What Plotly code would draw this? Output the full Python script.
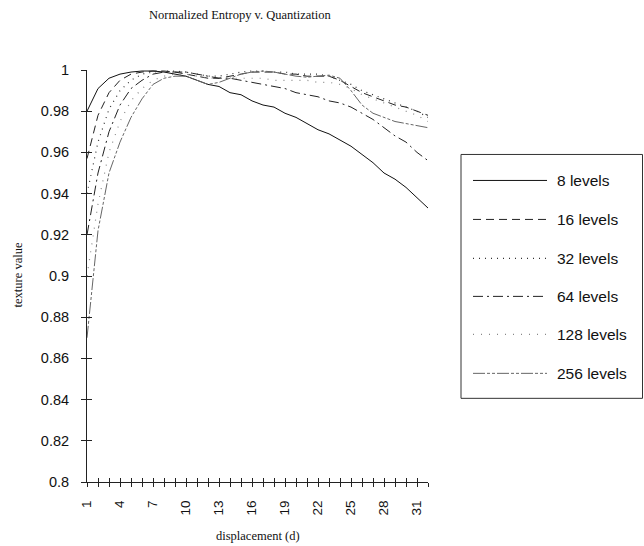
import plotly.graph_objects as go

# displacement values and normalized entropy per quantization level
displacement = list(range(1, 33))

levels_8 = [0.980, 0.991, 0.996, 0.998, 0.999, 0.9995, 0.9995, 0.999, 0.998, 0.997,
            0.995, 0.993, 0.992, 0.989, 0.988, 0.985, 0.983, 0.982, 0.979, 0.977,
            0.974, 0.971, 0.969, 0.966, 0.963, 0.959, 0.955, 0.950, 0.947, 0.943,
            0.938, 0.933]
levels_16 = [0.957, 0.978, 0.989, 0.995, 0.998, 0.999, 0.9995, 0.9995, 0.999, 0.998,
             0.997, 0.996, 0.996, 0.997, 0.998, 0.999, 0.999, 0.999, 0.998, 0.998,
             0.997, 0.997, 0.997, 0.995, 0.992, 0.989, 0.987, 0.985, 0.983, 0.982,
             0.980, 0.978]
levels_32 = [0.940, 0.965, 0.981, 0.990, 0.995, 0.998, 0.999, 0.9995, 0.9995, 0.999,
             0.998, 0.997, 0.997, 0.998, 0.999, 0.9995, 0.9995, 0.999, 0.999, 0.998,
             0.998, 0.998, 0.997, 0.995, 0.993, 0.990, 0.988, 0.986, 0.984, 0.982,
             0.980, 0.977]
levels_64 = [0.920, 0.950, 0.970, 0.983, 0.991, 0.995, 0.998, 0.999, 0.999, 0.999,
             0.998, 0.997, 0.996, 0.996, 0.995, 0.994, 0.993, 0.992, 0.991, 0.989,
             0.988, 0.987, 0.985, 0.984, 0.982, 0.979, 0.976, 0.972, 0.968, 0.965,
             0.960, 0.956]
levels_128 = [0.900, 0.935, 0.960, 0.975, 0.985, 0.991, 0.995, 0.997, 0.998, 0.998,
              0.997, 0.996, 0.996, 0.996, 0.996, 0.996, 0.996, 0.995, 0.995, 0.995,
              0.995, 0.994, 0.994, 0.993, 0.991, 0.988, 0.986, 0.984, 0.982, 0.980,
              0.978, 0.975]
levels_256 = [0.870, 0.922, 0.950, 0.965, 0.977, 0.986, 0.993, 0.996, 0.997, 0.997,
              0.995, 0.993, 0.994, 0.996, 0.998, 0.999, 0.9995, 0.999, 0.998, 0.997,
              0.9965, 0.997, 0.9975, 0.996, 0.990, 0.983, 0.979, 0.977, 0.975, 0.974,
              0.973, 0.972]

series_names = ["8 levels", "16 levels", "32 levels", "64 levels", "128 levels", "256 levels"]
series_values = [levels_8, levels_16, levels_32, levels_64, levels_128, levels_256]

x_tick_labels = [str(d) if (d - 1) % 3 == 0 else "" for d in displacement]
y_tick_values = [0.8, 0.82, 0.84, 0.86, 0.88, 0.9, 0.92, 0.94, 0.96, 0.98, 1.0]
y_tick_labels = ["0.8", "0.82", "0.84", "0.86", "0.88", "0.9", "0.92", "0.94", "0.96", "0.98", "1"]

styles = [
    dict(color="#111111", dash="solid", width=1),
    dict(color="#222222", dash="8px,5px", width=1),
    dict(color="#333333", dash="1px,5px", width=1.2),
    dict(color="#222222", dash="10px,4px,2px,4px", width=1),
    dict(color="#888888", dash="1px,7px", width=1.2),
    dict(color="#666666", dash="12px,2px,3px,2px,3px,2px", width=1),
]

W, H = 644, 546
L, R, T, B = 87, 428, 69.5, 481.7

fig = go.Figure()
for name, vals, st in zip(series_names, series_values, styles):
    fig.add_trace(go.Scatter(x=displacement, y=vals, mode="lines", name=name,
                             line=st, showlegend=False, hoverinfo="skip"))

# invisible trace on the overlay axes so they render their inside ticks
fig.add_trace(go.Scatter(x=[1], y=[0.8], xaxis="x2", yaxis="y2", mode="markers",
                         marker=dict(opacity=0), showlegend=False, hoverinfo="skip"))

sans = "Liberation Sans, Arial, sans-serif"
serif = "Liberation Serif, Times New Roman, serif"

fig.update_layout(
    width=W, height=H,
    margin=dict(l=L, r=W - R, t=T, b=H - B, pad=0),
    paper_bgcolor="white", plot_bgcolor="white",
    xaxis=dict(range=[1, 32], tickmode="array", tickvals=displacement,
               ticktext=x_tick_labels, tickangle=-90, ticks="outside", ticklen=4,
               tickcolor="#222222", tickwidth=1, showline=True, linecolor="#222222",
               linewidth=1, showgrid=False, zeroline=False,
               tickfont=dict(family=sans, size=13.5, color="#111111"),
               ticklabelstandoff=8),
    yaxis=dict(range=[0.8, 1.0], tickmode="array", tickvals=y_tick_values,
               ticktext=y_tick_labels, ticks="outside", ticklen=5, tickcolor="#222222",
               tickwidth=1, showline=True, linecolor="#222222", linewidth=1,
               showgrid=False, zeroline=False,
               tickfont=dict(family=sans, size=14.5, color="#111111"),
               ticklabelstandoff=9),
    xaxis2=dict(range=[1, 32], overlaying="x", anchor="y", tickmode="array",
                tickvals=displacement, ticks="inside", ticklen=4, tickcolor="#222222",
                showticklabels=False, showline=False, showgrid=False, zeroline=False),
    yaxis2=dict(range=[0.8, 1.0], overlaying="y", anchor="x", side="left",
                tickmode="array", tickvals=y_tick_values, ticks="inside", ticklen=5,
                tickcolor="#222222", showticklabels=False, showline=False,
                showgrid=False, zeroline=False),
)


def px_x(p):
    return (p - L) / (R - L)


def px_y(p):
    return (B - p) / (B - T)


annotations = [
    dict(text="Normalized Entropy v. Quantization", x=px_x(240), y=px_y(14),
         font=dict(family=serif, size=12.5, color="#111111")),
    dict(text="texture value", x=px_x(18), y=px_y(275), textangle=-90,
         font=dict(family=serif, size=12.5, color="#111111")),
    dict(text="displacement (d)", x=px_x(258), y=px_y(536),
         font=dict(family=serif, size=12.5, color="#111111")),
]

shapes = [
    dict(type="rect", xref="paper", yref="paper", x0=px_x(461), x1=px_x(642.5),
         y0=px_y(154), y1=px_y(398), line=dict(color="#333333", width=1),
         fillcolor="rgba(0,0,0,0)"),
]

legend_rows = [180, 219, 258, 296, 334, 373]
for name, st, yy in zip(series_names, styles, legend_rows):
    shapes.append(dict(type="line", xref="paper", yref="paper",
                       x0=px_x(473), x1=px_x(547), y0=px_y(yy), y1=px_y(yy),
                       line=st))
    annotations.append(dict(text=name, x=px_x(555), y=px_y(yy), xanchor="left",
                            font=dict(family=sans, size=15.5, color="#111111")))

for a in annotations:
    a.setdefault("xanchor", "center")
    a.update(xref="paper", yref="paper", yanchor="middle", showarrow=False)

fig.update_layout(annotations=annotations, shapes=shapes)

fig.write_html("out.html")
